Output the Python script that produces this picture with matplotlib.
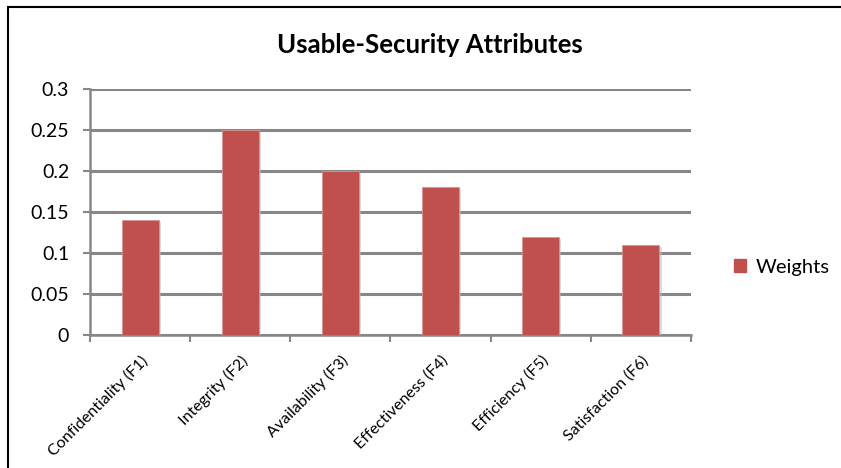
import matplotlib.pyplot as plt
import matplotlib.patches as mpatches
import matplotlib.patheffects as pe
import numpy as np

categories = ["Confidentiality (F1)", "Integrity (F2)", "Availability (F3)",
              "Effectiveness (F4)", "Efficiency (F5)", "Satisfaction (F6)"]
weights = [0.14, 0.25, 0.20, 0.18, 0.12, 0.11]
yticks = [0, 0.05, 0.1, 0.15, 0.2, 0.25, 0.3]
ytick_labels = ["0", "0.05", "0.1", "0.15", "0.2", "0.25", "0.3"]

plt.rcParams["font.family"] = ["Lato", "DejaVu Sans"]

fig = plt.figure(figsize=(8.41, 4.68), dpi=100)
ax = fig.add_axes([90 / 841, 1 - 335 / 468, (691 - 90) / 841, (335 - 89) / 468])

x = np.arange(len(categories))
bars = ax.bar(x, weights, width=0.37, color="#C0504D", edgecolor="#D99694",
              linewidth=0.6, zorder=3)
for b in bars:
    b.set_path_effects([pe.SimplePatchShadow(offset=(1.5, -1.5), shadow_rgbFace="#bbbbbb", alpha=0.5),
                        pe.Normal()])

ax.set_xlim(-0.5, len(categories) - 0.5)
ax.set_ylim(0, 0.3)
ax.set_yticks(yticks)
ax.set_yticklabels(ytick_labels, fontsize=14)
ax.yaxis.grid(True, color="#878787", linewidth=2.2, zorder=0)
ax.set_axisbelow(True)

ax.set_xticks(x)
ax.set_xticklabels(categories, rotation=45, ha="right", rotation_mode="anchor",
                   fontsize=11.5)
ax.set_xticks(np.arange(-0.5, len(categories)), minor=True)
ax.tick_params(axis="x", which="major", length=0, pad=13)
ax.tick_params(axis="x", which="minor", length=5, width=1.5, color="#878787")
ax.tick_params(axis="y", length=5, width=1.5, color="#878787", pad=10)

for s in ["top", "right"]:
    ax.spines[s].set_visible(False)
for s in ["left", "bottom"]:
    ax.spines[s].set_color("#878787")
    ax.spines[s].set_linewidth(1.8)

fig.text(430 / 841, 1 - 45 / 468, "Usable-Security Attributes", ha="center",
         va="center", fontsize=18.5, fontweight="bold")

handle = mpatches.Patch(color="#C0504D", label="Weights")
fig.legend(handles=[handle], loc="center left", bbox_to_anchor=(716 / 841, 1 - 267 / 468),
           frameon=False, fontsize=14.5, handlelength=0.6, handleheight=0.6,
           handletextpad=0.45)

fig.patches.append(mpatches.Rectangle((8 / 841, -0.1), 1.2, 1 - 7 / 468 + 0.1,
                                      transform=fig.transFigure, fill=False,
                                      edgecolor="black", linewidth=1.5))

fig.savefig("out.png", dpi=100)
